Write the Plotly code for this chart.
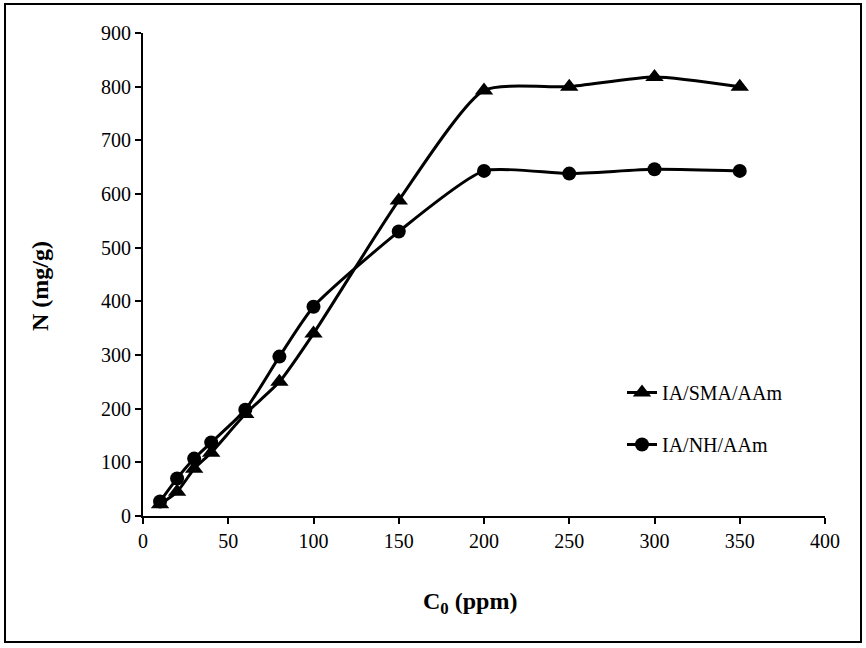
import plotly.graph_objects as go

c0 = [10, 20, 30, 40, 60, 80, 100, 150, 200, 250, 300, 350]
sma = [22, 45, 88, 118, 190, 250, 340, 588, 793, 800, 818, 800]
nh = [27, 70, 107, 137, 198, 297, 390, 530, 643, 638, 646, 643]
x_ticks = [0, 50, 100, 150, 200, 250, 300, 350, 400]
y_ticks = [0, 100, 200, 300, 400, 500, 600, 700, 800, 900]

FONT = "Liberation Serif, Times New Roman, serif"
W, H = 866, 648
L, R, T, B = 143, 41, 33, 132
pw, ph = W - L - R, H - T - B

def px2x(p):
    return (p - L) / pw

def py2y(p):
    return (H - B - p) / ph

fig = go.Figure()
fig.add_trace(go.Scatter(x=c0, y=sma, name="IA/SMA/AAm", mode="lines+markers", legendgroup="a",
                         line=dict(color="black", width=3, shape="spline", smoothing=0.6),
                         marker=dict(symbol="triangle-up", size=16, color="black")))
fig.add_trace(go.Scatter(x=c0, y=nh, name="IA/NH/AAm", mode="lines+markers", legendgroup="b",
                         line=dict(color="black", width=3, shape="spline", smoothing=0.6),
                         marker=dict(symbol="circle", size=14, color="black")))

fig.add_shape(type="rect", xref="paper", yref="paper",
              x0=px2x(5), x1=px2x(861), y0=py2y(642), y1=py2y(4),
              line=dict(color="black", width=2), fillcolor="rgba(0,0,0,0)", layer="below")

fig.add_annotation(text="<b>C<sub>0</sub> (ppm)</b>", xref="paper", yref="paper",
                   x=px2x(470), y=py2y(603), xanchor="center", yanchor="middle",
                   showarrow=False, font=dict(family=FONT, size=24))
fig.add_annotation(text="<b>N (mg/g)</b>", xref="paper", yref="paper",
                   x=px2x(40), y=py2y(286), xanchor="center", yanchor="middle", textangle=-90,
                   showarrow=False, font=dict(family=FONT, size=24))

fig.update_layout(
    width=W, height=H,
    margin=dict(l=L, r=R, t=T, b=B, autoexpand=False),
    paper_bgcolor="white", plot_bgcolor="white",
    font=dict(family=FONT, size=20, color="black"),
    showlegend=True,
    legend=dict(x=px2x(622), y=py2y(373), xanchor="left", yanchor="top",
                bgcolor="rgba(0,0,0,0)", font=dict(family=FONT, size=20),
                traceorder="grouped", tracegroupgap=23),
    xaxis=dict(range=[0, 400], tickvals=x_ticks, showgrid=False, zeroline=False,
               showline=True, linecolor="black", linewidth=2, automargin=False,
               ticks="outside", ticklen=6, tickwidth=2, tickcolor="black",
               tickfont=dict(family=FONT, size=20)),
    yaxis=dict(range=[0, 900], tickvals=y_ticks, showgrid=False, zeroline=False,
               showline=True, linecolor="black", linewidth=2, automargin=False,
               ticks="outside", ticklen=6, tickwidth=2, tickcolor="black",
               tickfont=dict(family=FONT, size=20)),
)

fig.write_html("out.html", config={"displayModeBar": False},
               post_script="document.body.style.margin='0px';")
